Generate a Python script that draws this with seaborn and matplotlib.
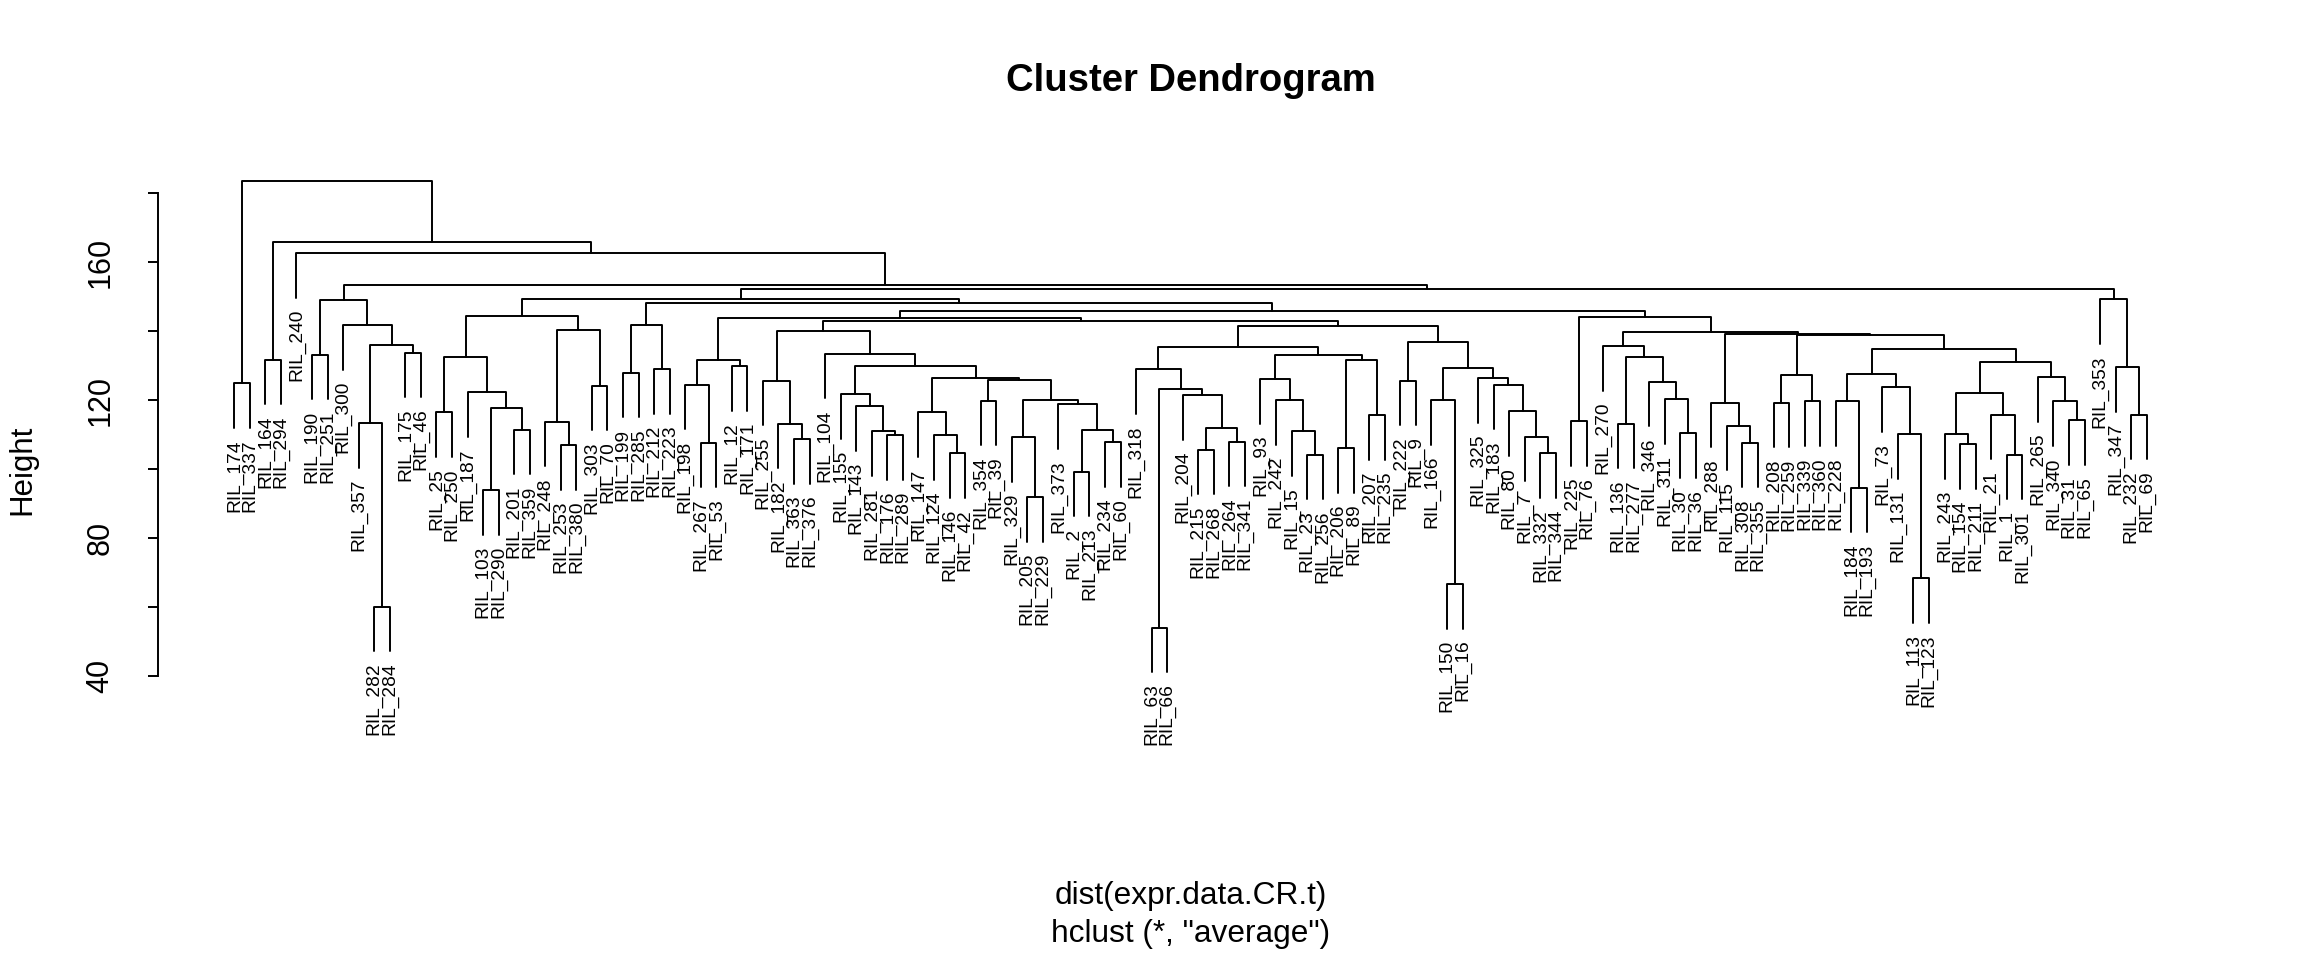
import matplotlib
matplotlib.use("Agg")
import matplotlib.pyplot as plt
import pandas as pd
import seaborn as sns
from matplotlib.transforms import offset_copy

# Leaves in the order they are drawn (left -> right)
leaves = [
    "RIL_174", "RIL_337", "RIL_164", "RIL_294", "RIL_240", "RIL_190", "RIL_251", "RIL_300",
    "RIL_357", "RIL_282", "RIL_284", "RIL_175", "RIL_46", "RIL_25", "RIL_250", "RIL_187",
    "RIL_103", "RIL_290", "RIL_201", "RIL_359", "RIL_248", "RIL_253", "RIL_380", "RIL_303",
    "RIL_70", "RIL_199", "RIL_285", "RIL_212", "RIL_223", "RIL_198", "RIL_267", "RIL_53",
    "RIL_12", "RIL_171", "RIL_255", "RIL_182", "RIL_363", "RIL_376", "RIL_104", "RIL_155",
    "RIL_143", "RIL_281", "RIL_176", "RIL_289", "RIL_147", "RIL_124", "RIL_146", "RIL_42",
    "RIL_354", "RIL_39", "RIL_329", "RIL_205", "RIL_229", "RIL_373", "RIL_2", "RIL_213",
    "RIL_234", "RIL_60", "RIL_318", "RIL_63", "RIL_66", "RIL_204", "RIL_215", "RIL_268",
    "RIL_264", "RIL_341", "RIL_93", "RIL_242", "RIL_15", "RIL_23", "RIL_256", "RIL_206",
    "RIL_89", "RIL_207", "RIL_235", "RIL_222", "RIL_9", "RIL_166", "RIL_150", "RIL_16",
    "RIL_325", "RIL_183", "RIL_80", "RIL_7", "RIL_332", "RIL_344", "RIL_225", "RIL_76",
    "RIL_270", "RIL_136", "RIL_277", "RIL_346", "RIL_311", "RIL_30", "RIL_36", "RIL_288",
    "RIL_115", "RIL_308", "RIL_355", "RIL_208", "RIL_259", "RIL_339", "RIL_360", "RIL_228",
    "RIL_184", "RIL_193", "RIL_73", "RIL_131", "RIL_113", "RIL_123", "RIL_243", "RIL_154",
    "RIL_211", "RIL_21", "RIL_1", "RIL_301", "RIL_265", "RIL_340", "RIL_31", "RIL_65",
    "RIL_353", "RIL_347", "RIL_232", "RIL_69",
]

# Merge table: a string is a leaf, an int is an earlier merge row
merge_left = [
    "RIL_174", "RIL_164", "RIL_190", "RIL_282", "RIL_357", "RIL_175", 4, "RIL_300", 2,
    "RIL_25", "RIL_103", "RIL_201", 10, "RIL_187", 9, "RIL_253", "RIL_248", "RIL_303", 16, 14,
    "RIL_199", "RIL_212", 20,
    "RIL_267", "RIL_198", "RIL_12", 24,
    "RIL_363", "RIL_182", "RIL_255", "RIL_176", "RIL_281", "RIL_143", "RIL_155", "RIL_146",
    "RIL_124", "RIL_147", "RIL_354", "RIL_205", "RIL_329", "RIL_2", "RIL_234", 40, "RIL_373",
    39, 37, 36, 33, "RIL_104", 29,
    "RIL_63", "RIL_215", "RIL_264", 51, "RIL_204", 50, "RIL_318", "RIL_23", "RIL_15", "RIL_242",
    "RIL_93", "RIL_206", "RIL_207", 61, 60, 56,
    "RIL_222", "RIL_150", "RIL_166", "RIL_332", "RIL_7", "RIL_80", "RIL_183", "RIL_325", 68, 66,
    65, 49, 26,
    "RIL_225", "RIL_136", "RIL_30", "RIL_311", "RIL_346", 80, "RIL_270",
    "RIL_308", "RIL_115", "RIL_288", "RIL_208", "RIL_339", 89, "RIL_184", "RIL_228", "RIL_113",
    "RIL_131", "RIL_73", 93,
    "RIL_154", "RIL_243", "RIL_1", "RIL_21", 99, "RIL_31", "RIL_340", "RIL_265", 102, 97, 91, 88,
    85, 79, 78, 22, 19,
    "RIL_232", "RIL_347", "RIL_353", 114, 8, "RIL_240", 1, 0,
]
merge_right = [
    "RIL_337", "RIL_294", "RIL_251", "RIL_284", 3, "RIL_46", 5, 6, 7,
    "RIL_250", "RIL_290", "RIL_359", 11, 12, 13, "RIL_380", 15, "RIL_70", 17, 18,
    "RIL_285", "RIL_223", 21,
    "RIL_53", 23, "RIL_171", 25,
    "RIL_376", 27, 28, "RIL_289", 30, 31, 32, "RIL_42",
    34, 35, "RIL_39", "RIL_229", 38, "RIL_213", "RIL_60", 41, 42,
    43, 44, 45, 46, 47, 48,
    "RIL_66", "RIL_268", "RIL_341", 52, 53, 54, 55, "RIL_256", 57, 58,
    59, "RIL_89", "RIL_235", 62, 63, 64,
    "RIL_9", "RIL_16", 67, "RIL_344", 69, 70, 71, 72, 73, 74,
    75, 76, 77,
    "RIL_76", "RIL_277", "RIL_36", 81, 82, 83, 84,
    "RIL_355", 86, 87, "RIL_259", "RIL_360", 90, "RIL_193", 92, "RIL_123",
    94, 95, 96,
    "RIL_211", 98, "RIL_301", 100, 101, "RIL_65", 103, 104, 105, 106, 107, 108,
    109, 110, 111, 112, 113,
    "RIL_69", 115, 116, 117, 118, 119, 120, 121,
]
merge_height = [
    124.8, 131.7, 133.1, 60.1, 113.3, 133.7, 135.9, 141.7, 149.1,
    116.4, 93.9, 111.4, 117.6, 122.2, 132.6, 107.0, 113.7, 124.2, 140.3, 144.4,
    127.9, 129.0, 141.8,
    107.6, 124.4, 129.8, 131.7,
    108.7, 113.1, 125.6, 109.8, 110.9, 118.3, 121.7, 104.6,
    109.8, 116.4, 119.8, 91.8, 109.2, 99.2, 107.8, 111.4, 118.7,
    120.0, 125.9, 126.4, 129.8, 133.4, 140.0,
    54.0, 105.6, 107.9, 111.8, 121.4, 123.1, 128.9, 104.2, 110.9, 120.0,
    126.1, 106.1, 115.6, 131.6, 133.0, 135.5,
    125.6, 66.7, 120.0, 104.6, 109.4, 116.8, 124.4, 126.4, 129.4, 136.7,
    141.5, 142.8, 143.9,
    113.9, 113.1, 110.3, 120.3, 125.3, 132.6, 135.6,
    107.6, 112.6, 119.2, 119.2, 119.6, 127.3, 94.6, 119.6, 68.3,
    110.1, 123.7, 127.6,
    107.2, 110.1, 104.2, 115.7, 122.0, 114.2, 119.6, 126.7, 130.9, 134.8, 138.8, 139.1,
    139.8, 144.1, 145.7, 148.0, 149.4,
    115.7, 129.6, 149.2, 152.2, 153.3, 162.6, 165.7, 183.4,
]

y_ticks = [40, 60, 80, 100, 120, 140, 160, 180]
y_tick_labels = ["40", "", "80", "", "120", "", "160", ""]

# --- build the dendrogram segments (R plot.hclust style, hang = 0.1) ---
leaf_pos = {name: i + 1 for i, name in enumerate(leaves)}
hang = 0.1 * (max(merge_height) - min(merge_height))

node_x, leaf_end, rows = [], {}, []
for k, (a, b, h) in enumerate(zip(merge_left, merge_right, merge_height)):
    ends = []
    for child in (a, b):
        if isinstance(child, str):
            cx, cy = leaf_pos[child], h - hang
            leaf_end[child] = cy
        else:
            cx, cy = node_x[child], merge_height[child]
        ends.append((cx, cy))
    (x1, y1), (x2, y2) = ends
    node_x.append((x1 + x2) / 2)
    for px, py in [(x1, y1), (x1, h), (x2, h), (x2, y2)]:
        rows.append({"seg": k, "x": px, "y": py})
segs = pd.DataFrame(rows)

missing = set(leaves) - set(leaf_end)
if missing:
    print("leaves not in merge table:", missing)

# --- plot ---
sns.set_style("white")
plt.rcParams['font.family'] = ['Liberation Sans', 'DejaVu Sans']
plt.rcParams['text.color'] = 'black'

fig = plt.figure(figsize=(23.04, 9.6), dpi=100)
ax = fig.add_axes([0.06849, 0.27927, 0.89644, 0.5524])

sns.lineplot(data=segs, x="x", y="y", units="seg", estimator=None, sort=False,
             color="black", linewidth=1.4, ax=ax)

n = len(leaves)
ax.set_xlim(1 - 0.04 * (n - 1), n + 0.04 * (n - 1))
ax.set_ylim(35.4, 189.1)

lab_tr = offset_copy(ax.transData, fig=fig, y=-8, units='points')
for name in leaves:
    ax.text(leaf_pos[name], leaf_end[name], name, rotation=90, ha='center', va='top',
            fontsize=13.8, color='black', transform=lab_tr, clip_on=False)

for side in ['top', 'right', 'bottom']:
    ax.spines[side].set_visible(False)
ax.spines['left'].set_bounds(40, 180)
ax.spines['left'].set_linewidth(1.4)
ax.spines['left'].set_color('black')
ax.set_xticks([])
ax.set_yticks(y_ticks)
ax.set_yticklabels(y_tick_labels)
ax.tick_params(axis='y', left=True, direction='out', length=7.2, width=1.4,
               color='black', labelcolor='black', labelsize=22, pad=34)
for t in ax.get_yticklabels():
    t.set_rotation(90)
    t.set_va('center')
    t.set_ha('center')
ax.set_xlabel("")
ax.set_ylabel("")

cx = 0.5167
fig.text(cx, 0.9156, "Cluster Dendrogram", ha='center', va='center',
         fontsize=27.5, fontweight='bold', color='black')
fig.text(0.0095, 0.5104, "Height", rotation=90, ha='center', va='center',
         fontsize=22.5, color='black')
fig.text(cx, 0.0667, "dist(expr.data.CR.t)", ha='center', va='center',
         fontsize=22.8, color='black')
fig.text(cx, 0.0271, 'hclust (*, "average")', ha='center', va='center',
         fontsize=22.8, color='black')

fig.savefig("out.png", dpi=100)
